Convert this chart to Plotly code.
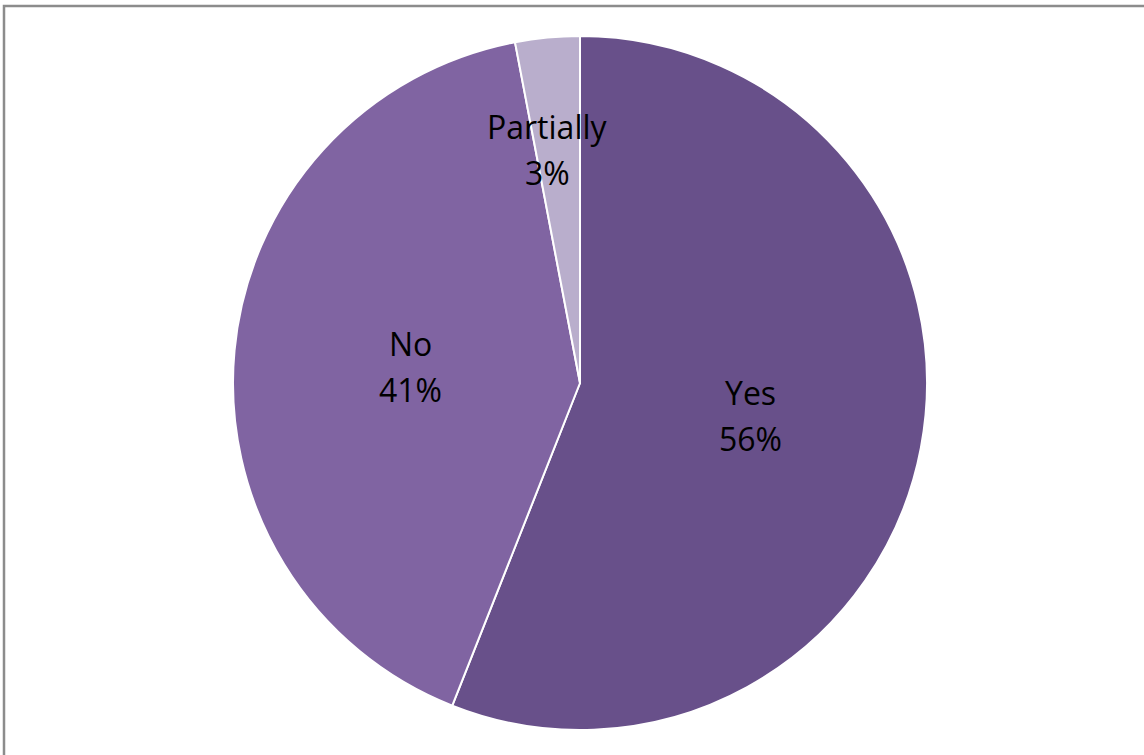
import math
import plotly.graph_objects as go

# Survey answers and their shares (percent)
categories = ["Yes", "No", "Partially"]
shares = [56, 41, 3]
slice_colors = ["#68508A", "#8064A2", "#B9AECC"]
# Where each label sits: fraction of radius along the slice's mid-angle,
# plus a small angular nudge (degrees) for the narrow slice
label_radius = [0.5, 0.49, 0.68]
label_nudge = [0, 0, -2.6]

W, H = 1144, 755
CX, CY, R = 580, 383, 347  # pie centre and radius in pixels
LINE_GAP = 46  # distance between the two label lines, pixels

fig = go.Figure(
    go.Pie(
        labels=categories,
        values=shares,
        sort=False,
        direction="clockwise",
        rotation=0,
        marker=dict(colors=slice_colors, line=dict(color="white", width=2)),
        textinfo="none",
        hoverinfo="label+percent",
        showlegend=False,
        domain=dict(x=[(CX - R) / W, (CX + R) / W],
                    y=[(H - CY - R) / H, (H - CY + R) / H]),
    )
)

# Category / percentage labels placed along each slice's mid-angle
total = sum(shares)
start = 0.0
annotations = []
for name, val, f, nudge in zip(categories, shares, label_radius, label_nudge):
    mid = (start + val / 2) / total * 2 * math.pi + math.radians(nudge)
    start += val
    px = CX + R * f * math.sin(mid)
    py = CY - R * f * math.cos(mid)
    lines = [name, f"{round(val / total * 100)}%"]
    for i, line in enumerate(lines):
        ly = py + (i - 0.5) * LINE_GAP
        annotations.append(dict(
            x=px / W, y=1 - ly / H, xref="paper", yref="paper",
            text=line, showarrow=False, xanchor="center", yanchor="middle",
            font=dict(family="Open Sans", size=32, color="black"),
        ))

fig.update_layout(
    width=W, height=H,
    margin=dict(l=0, r=0, t=0, b=0),
    paper_bgcolor="white",
    plot_bgcolor="white",
    annotations=annotations,
    shapes=[dict(type="rect", xref="paper", yref="paper",
                 x0=4 / W, y0=-0.01, x1=1.01, y1=1 - 6 / H,
                 line=dict(color="#8C8C8C", width=2.5), layer="below")],
)

fig.write_html("out.html")
